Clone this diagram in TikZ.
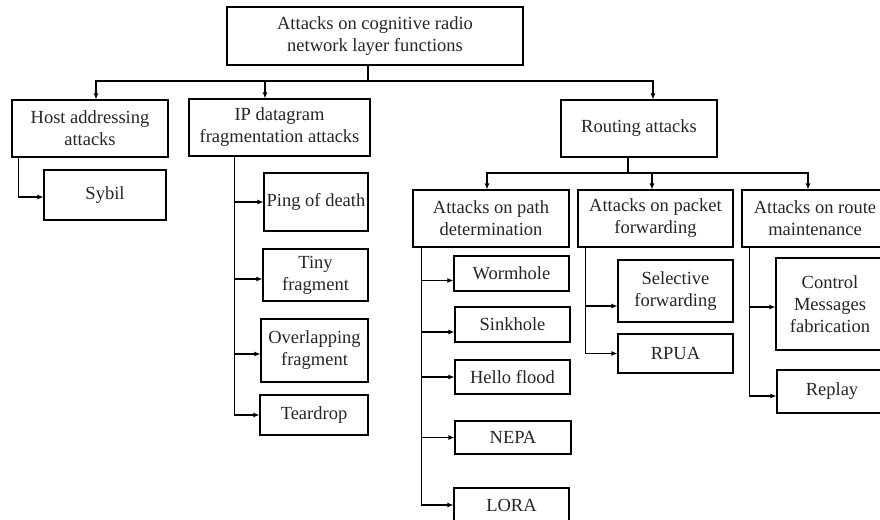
\documentclass[tikz,border=0pt]{standalone}
\usepackage{fontspec}
\setmainfont{Liberation Serif}
\usetikzlibrary{arrows.meta}
\begin{document}
\begin{tikzpicture}[x=1pt,y=-1pt,
  box/.style={draw, line width=1.1pt, inner sep=0pt, align=center,
    font=\fontsize{18.5}{22}\selectfont, text=black!85},
  ln/.style={line width=1.1pt},
  arr/.style={line width=1.1pt, -{Latex[length=6pt,width=5pt]}}]
\useasboundingbox (0,0) rectangle (880,519);
\fill[white] (0,0) rectangle (880,519);
\clip (0,0) rectangle (880,519);
% nodes
\node[box, minimum width=296pt, minimum height=58pt] (top) at (375,36) {Attacks on cognitive radio\\network layer functions};
\node[box, minimum width=156pt, minimum height=57pt] (host) at (90,128.5) {Host addressing\\attacks};
\node[box, minimum width=181pt, minimum height=57pt] (ip) at (279.5,127.5) {IP datagram\\fragmentation attacks};
\node[box, minimum width=156pt, minimum height=57pt] (routing) at (639,128.5) {Routing attacks};
\node[box, minimum width=122pt, minimum height=50pt] (sybil) at (105,195) {Sybil};
\node[box, minimum width=104pt, minimum height=58pt] (ping) at (316,202) {Ping of death};
\node[box, minimum width=105pt, minimum height=52pt] (tiny) at (315.5,275) {Tiny\\fragment};
\node[box, minimum width=107pt, minimum height=63pt] (overlap) at (314.5,350.5) {Overlapping\\fragment};
\node[box, minimum width=108pt, minimum height=40pt] (tear) at (314,415) {Teardrop};
\node[box, minimum width=156pt, minimum height=57pt] (path) at (491,218.5) {Attacks on path\\determination};
\node[box, minimum width=155pt, minimum height=57pt] (packet) at (655.5,218.5) {Attacks on packet\\forwarding};
\node[box, minimum width=146pt, minimum height=57pt] (route) at (815,218.5) {Attacks on route\\maintenance};
\node[box, minimum width=115pt, minimum height=35pt] (worm) at (511.5,273.5) {Wormhole};
\node[box, minimum width=115pt, minimum height=35pt] (sink) at (512.5,324.5) {Sinkhole};
\node[box, minimum width=115pt, minimum height=34pt] (hello) at (512.5,377) {Hello flood};
\node[box, minimum width=116pt, minimum height=33pt] (nepa) at (513,437.5) {NEPA};
\node[box, minimum width=115pt, minimum height=34pt] (lora) at (511.5,505) {LORA};
\node[box, minimum width=115pt, minimum height=62pt] (sel) at (675.5,291) {Selective\\forwarding};
\node[box, minimum width=115pt, minimum height=39pt] (rpua) at (675.5,353.5) {RPUA};
\node[box, minimum width=108pt, minimum height=92pt] (ctrl) at (830,304) {Control\\Messages\\fabrication};
\node[box, minimum width=110pt, minimum height=43pt] (replay) at (832,391.5) {Replay};
% top level connectors
\coordinate (bus) at (368,81);
\draw[ln] (top.south -| bus) -- (bus);
\draw[arr] (bus) -| ([xshift=6pt]host.north);
\draw[arr] (bus) -| ([xshift=-14.5pt]ip.north);
\draw[arr] (bus) -| ([xshift=14pt]routing.north);
% host
\draw[arr] ([xshift=7pt]host.south west) |- ([yshift=-2pt]sybil.west);
% ip
\coordinate (ipst) at ([xshift=46pt]ip.south west);
\draw[arr] (ipst) |- (ping.west);
\draw[arr] (ipst) |- ([yshift=-4pt]tiny.west);
\draw[arr] (ipst) |- ([yshift=-3.5pt]overlap.west);
\draw[arr] (ipst) |- (tear.west);
% routing
\coordinate (rbus) at (628,173);
\draw[ln] (routing.south -| rbus) -- (rbus);
\draw[arr] (rbus) -| ([xshift=-4pt]path.north);
\draw[arr] (rbus) -| ([xshift=-3.5pt]packet.north);
\draw[arr] (rbus) -| ([xshift=-7pt]route.north);
% path determination
\coordinate (pst) at ([xshift=9pt]path.south west);
\draw[arr] (pst) |- ([yshift=-7pt]worm.west);
\draw[arr] (pst) |- ([yshift=-7.5pt]sink.west);
\draw[arr] (pst) |- (hello.west);
\draw[arr] (pst) |- (nepa.west);
\draw[arr] (pst) |- (lora.west);
% packet forwarding
\coordinate (fst) at ([xshift=8pt]packet.south west);
\draw[arr] (fst) |- ([yshift=-15pt]sel.west);
\draw[arr] (fst) |- (rpua.west);
% route maintenance
\coordinate (mst) at ([xshift=8pt]route.south west);
\draw[arr] (mst) |- ([yshift=-3pt]ctrl.west);
\draw[arr] (mst) |- ([yshift=-4.5pt]replay.west);
\end{tikzpicture}
\end{document}
